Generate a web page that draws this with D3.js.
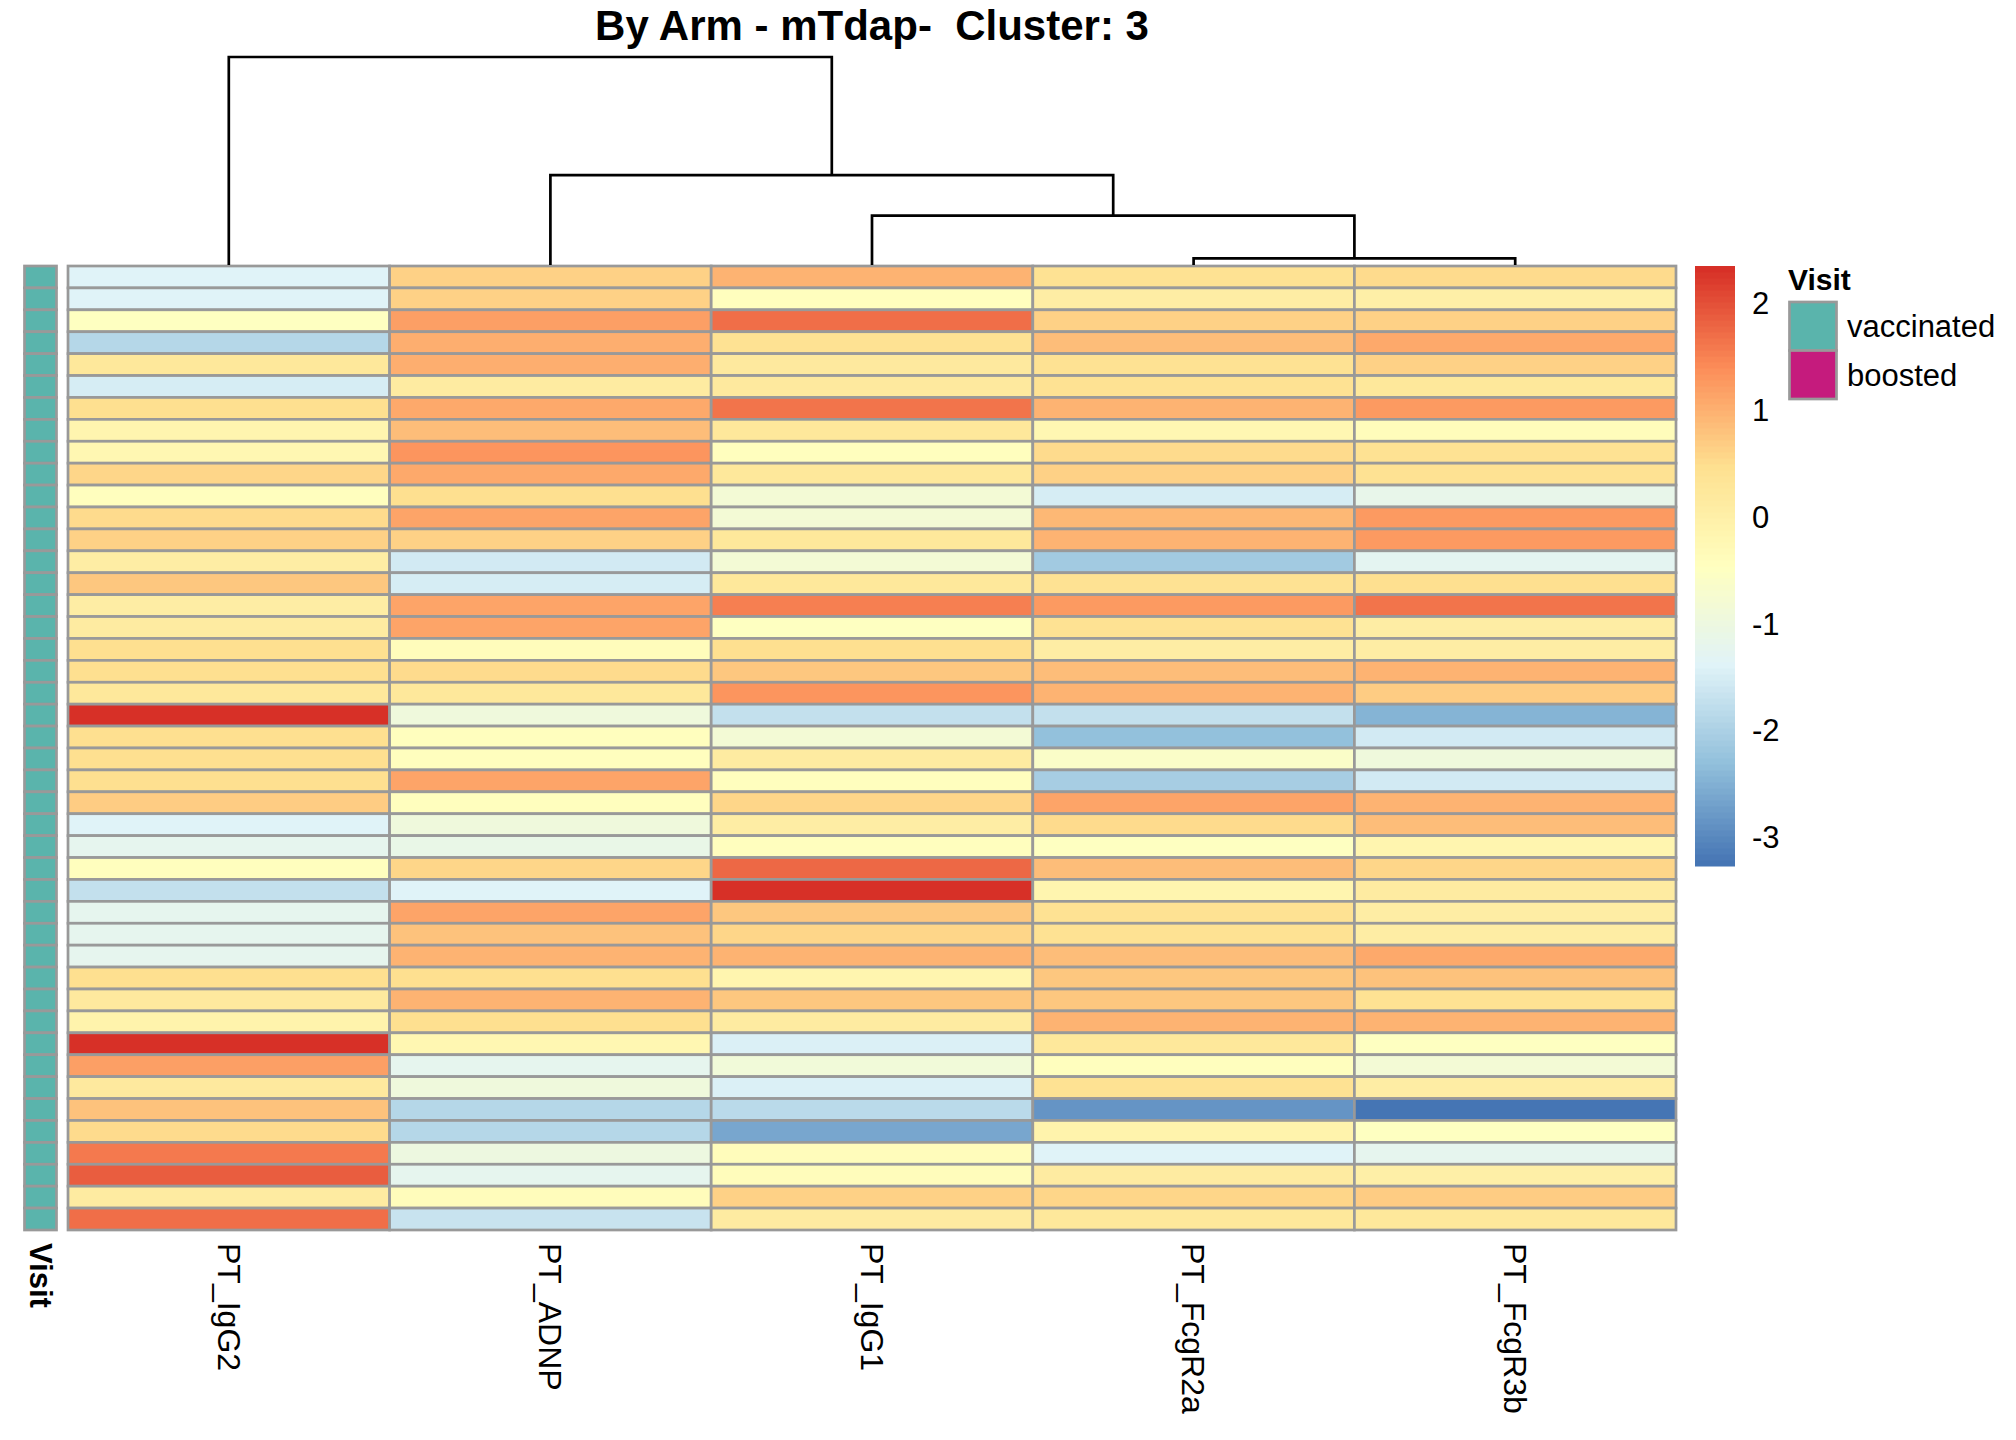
<!DOCTYPE html>
<html>
<head>
<meta charset="utf-8">
<script src="https://cdn.jsdelivr.net/npm/d3@7"></script>
<style>
  body { margin: 0; background: #fff; }
  text { font-family: "Liberation Sans", Arial, sans-serif; fill: #000; }
</style>
</head>
<body>
<script>
// column features, in dendrogram order
const features = ["PT_IgG2", "PT_ADNP", "PT_IgG1", "PT_FcgR2a", "PT_FcgR3b"];

// scaled values per feature, rows top to bottom
const ptIgG2 = [-1.4, -1.4, -0.47, -1.89, 0.23, -1.52, 0.45, -0.17, -0.2, 0.6, -0.45, 0.55, 0.65, 0.1, 0.75,
  0.1, 0.15, 0.45, 0.45, 0.25, 2.35, 0.45, 0.45, 0.45, 0.7, -1.4, -1.2, -0.45, -1.7, -1.2,
  -1.2, -1.2, 0.45, 0.2, -0.1, 2.3, 1.2, 0.2, 0.8, 0.5, 1.6, 1.9, 0.15, 1.7];
const ptADNP = [0.65, 0.65, 1.22, 1.05, 1.05, 0.11, 1.07, 0.87, 1.29, 1.07, 0.45, 1.14, 0.66, -1.55, -1.5,
  1.14, 1.14, -0.4, 0.55, 0.25, -0.92, -0.42, -0.45, 1.13, -0.45, -0.92, -1.1, 0.6, -1.4, 1.13,
  0.78, 0.96, 0.45, 0.96, 0.47, -0.2, -1.2, -0.92, -1.88, -1.88, -1.0, -1.2, -0.4, -1.68];
const ptIgG1 = [0.98, -0.45, 1.69, 0.4, 0.2, 0.2, 1.65, 0.25, -0.45, 0.25, -0.8, -0.8, 0.25, -0.8, 0.25,
  1.55, -0.47, 0.45, 0.75, 1.29, -1.7, -0.8, 0.15, -0.45, 0.6, 0.05, -0.45, 1.75, 2.33, 0.75,
  0.6, 0.96, -0.15, 0.75, 0.15, -1.46, -0.9, -1.46, -1.83, -2.6, -0.4, -0.4, 0.62, 0.15];
const ptFcgR2a = [0.4, 0.1, 0.66, 0.85, 0.4, 0.4, 0.96, -0.22, 0.5, 0.66, -1.52, 0.91, 0.96, -2.13, 0.4,
  1.25, 0.4, 0.1, 0.85, 0.96, -1.71, -2.3, -0.6, -2.07, 1.14, 0.55, -0.47, 0.85, -0.15, 0.4,
  0.4, 0.85, 0.75, 0.75, 0.96, 0.25, -0.45, 0.4, -2.85, -0.1, -1.4, 0.15, 0.6, 0.25];
const ptFcgR3b = [0.55, 0.0, 0.62, 1.07, 0.62, 0.25, 1.27, -0.35, 0.4, 0.4, -1.17, 1.27, 1.27, -1.27, 0.45,
  1.65, 0.05, 0.05, 0.96, 0.7, -2.48, -1.53, -0.92, -1.56, 0.98, 0.85, -0.15, 0.6, 0.15, 0.1,
  0.1, 1.07, 0.78, 0.4, 0.96, -0.47, -0.8, 0.1, -3.27, -0.47, -1.2, 0.0, 0.7, 0.25];

// row annotation
const visit = ["vaccinated", "vaccinated", "vaccinated", "vaccinated", "vaccinated", "vaccinated", "vaccinated",
  "vaccinated", "vaccinated", "vaccinated", "vaccinated", "vaccinated", "vaccinated", "vaccinated", "vaccinated",
  "vaccinated", "vaccinated", "vaccinated", "vaccinated", "vaccinated", "vaccinated", "vaccinated", "vaccinated",
  "vaccinated", "vaccinated", "vaccinated", "vaccinated", "vaccinated", "vaccinated", "vaccinated", "vaccinated",
  "vaccinated", "vaccinated", "vaccinated", "vaccinated", "vaccinated", "vaccinated", "vaccinated", "vaccinated",
  "vaccinated", "vaccinated", "vaccinated", "vaccinated", "vaccinated"];
const visitLevels = ["vaccinated", "boosted"];
const visitColors = ["#5AB4AC", "#C51B7D"];

// legend ticks
const legendTicks = [2, 1, 0, -1, -2, -3];

// column clustering (merge heights)
const colTree = {
  height: 6.2, children: [
    { name: "PT_IgG2" },
    { height: 2.68, children: [
      { name: "PT_ADNP" },
      { height: 1.47, children: [
        { name: "PT_IgG1" },
        { height: 0.2, children: [{ name: "PT_FcgR2a" }, { name: "PT_FcgR3b" }] }
      ] }
    ] }
  ]
};

const title = "By Arm - mTdap-  Cluster: 3";
const values = [ptIgG2, ptADNP, ptIgG1, ptFcgR2a, ptFcgR3b];
const nRows = ptIgG2.length;

const width = 2016, height = 1440;
const svg = d3.select("body").append("svg")
  .attr("width", width)
  .attr("height", height);

svg.append("rect").attr("width", width).attr("height", height).attr("fill", "#fff");

// palette like colorRampPalette(rev(brewer.pal(7, "RdYlBu")))(100)
const brewer = ["#4575B4", "#91BFDB", "#E0F3F8", "#FFFFBF", "#FEE090", "#FC8D59", "#D73027"];
const ramp = d3.scaleLinear().domain(d3.range(7).map(i => i / 6)).range(brewer);
const palette = d3.range(100).map(i => ramp(i / 99));

const extent = d3.extent(values.flat());
const color = d3.scaleQuantize().domain(extent).range(palette);

const x = d3.scaleBand().domain(features).range([68, 1676]);
const y = d3.scaleBand().domain(d3.range(nRows)).range([266, 1230]);
const borderColor = "#999999";

// heatmap cells
const cells = [];
values.forEach((col, j) => col.forEach((v, i) => cells.push({ f: features[j], i, v })));

svg.append("g").selectAll("rect")
  .data(cells)
  .enter()
  .append("rect")
  .attr("x", d => x(d.f))
  .attr("y", d => y(d.i))
  .attr("width", x.bandwidth())
  .attr("height", y.bandwidth())
  .attr("fill", d => color(d.v))
  .attr("stroke", borderColor)
  .attr("stroke-width", 2.7);

// annotation column
const annColor = d3.scaleOrdinal().domain(visitLevels).range(visitColors);
svg.append("g").selectAll("rect")
  .data(visit)
  .enter()
  .append("rect")
  .attr("x", 24.5)
  .attr("y", (d, i) => y(i))
  .attr("width", 32)
  .attr("height", y.bandwidth())
  .attr("fill", d => annColor(d))
  .attr("stroke", borderColor)
  .attr("stroke-width", 2.7);

svg.append("text")
  .attr("transform", `translate(40.5, 1243) rotate(90)`)
  .attr("dy", "0.35em")
  .style("font-size", "31px")
  .style("font-weight", "bold")
  .text("Visit");

// column labels
svg.append("g").selectAll("text")
  .data(features)
  .enter()
  .append("text")
  .attr("transform", d => `translate(${x(d) + x.bandwidth() / 2}, 1243) rotate(90)`)
  .attr("dy", "0.35em")
  .style("font-size", "32px")
  .text(d => d);

// dendrogram
const hScale = d3.scaleLinear().domain([0, colTree.height]).range([265, 57]);
const root = d3.hierarchy(colTree);
root.eachAfter(n => {
  if (!n.children) n.px = x(n.data.name) + x.bandwidth() / 2;
  else n.px = d3.mean(n.children, c => c.px);
  n.py = hScale(n.data.height || 0);
});

svg.append("g").selectAll("path")
  .data(root.descendants().filter(n => n.children))
  .enter()
  .append("path")
  .attr("fill", "none")
  .attr("stroke", "#000")
  .attr("stroke-width", 2.7)
  .attr("d", n => {
    const [a, b] = n.children;
    return `M${a.px},${a.py} V${n.py} H${b.px} V${b.py}`;
  });

// title (keep the double space)
svg.append("text")
  .attr("x", (68 + 1676) / 2)
  .attr("y", 39.5)
  .attr("text-anchor", "middle")
  .style("font-size", "42px")
  .style("font-weight", "bold")
  .style("white-space", "pre")
  .text(title);

// colour legend
const ly = d3.scaleLinear().domain(extent).range([866, 266]);
const step = (extent[1] - extent[0]) / palette.length;
svg.append("g").selectAll("rect")
  .data(palette)
  .enter()
  .append("rect")
  .attr("x", 1695)
  .attr("y", (d, i) => ly(extent[0] + (i + 1) * step))
  .attr("width", 40)
  .attr("height", (d, i) => ly(extent[0] + i * step) - ly(extent[0] + (i + 1) * step) + 0.5)
  .attr("fill", d => d);

svg.append("g").selectAll("text")
  .data(legendTicks)
  .enter()
  .append("text")
  .attr("x", 1752)
  .attr("y", d => ly(d))
  .attr("dy", "0.35em")
  .style("font-size", "31px")
  .text(d => d);

// annotation legend
const leg = svg.append("g");
leg.append("text")
  .attr("x", 1788)
  .attr("y", 290)
  .style("font-size", "30px")
  .style("font-weight", "bold")
  .text("Visit");

const ky = d3.scaleBand().domain(visitLevels).range([302, 399]);
leg.selectAll("rect")
  .data(visitLevels)
  .enter()
  .append("rect")
  .attr("x", 1789.5)
  .attr("y", d => ky(d))
  .attr("width", 47)
  .attr("height", ky.bandwidth())
  .attr("fill", d => annColor(d))
  .attr("stroke", borderColor)
  .attr("stroke-width", 2.7);

leg.selectAll("text.lab")
  .data(visitLevels)
  .enter()
  .append("text")
  .attr("class", "lab")
  .attr("x", 1847)
  .attr("y", d => ky(d) + ky.bandwidth() / 2)
  .attr("dy", "0.35em")
  .style("font-size", "31px")
  .text(d => d);
</script>
</body>
</html>
